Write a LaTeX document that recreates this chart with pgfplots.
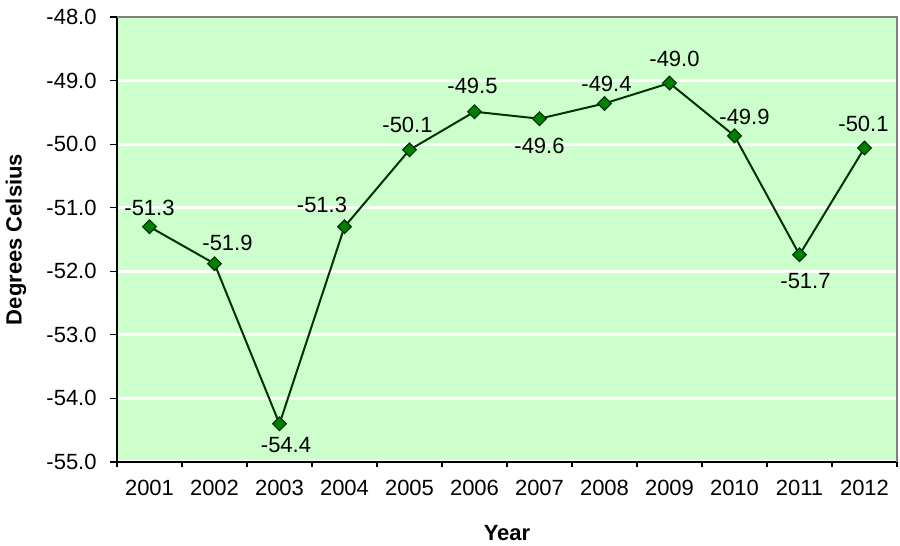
\documentclass[border=0pt]{standalone}
\usepackage{fontspec}
\setmainfont{Liberation Sans}
\usepackage{pgfplots}
\pgfplotsset{compat=1.18}
\usepackage{pgfplotstable}

\definecolor{plotbg}{RGB}{204,255,204}
\definecolor{linegreen}{RGB}{0,51,0}
\definecolor{markgreen}{RGB}{0,128,0}
\definecolor{framegray}{RGB}{128,128,128}

% year index, temperature, label offsets (pt)
\pgfplotstableread{
x y dx dy
1 -51.30 0 9.25
2 -51.88 6.5 10.25
3 -54.40 3.25 -10.75
4 -51.30 -11.25 11
5 -50.09 -1 12.25
6 -49.49 -1 13
7 -49.60 0 -13.75
8 -49.36 1 10
9 -49.04 2.5 12.25
10 -49.87 5 9.5
11 -51.74 3 -13.25
12 -50.06 -0.5 12.25
}\temps

\begin{document}
\begin{tikzpicture}
\useasboundingbox (-58.5pt,-42pt) rectangle (391.5pt,231pt);
\begin{axis}[
	scale only axis,
	width=390pt, height=222.5pt,
	at={(0,0)}, anchor=south west,
	xmin=0.5, xmax=12.5,
	ymin=-55, ymax=-48,
	axis x line*=bottom,
	axis y line*=left,
	axis line style={black, line width=0.8pt},
	axis background/.style={fill=plotbg},
	tick align=outside,
	xtick={1,...,12},
	xticklabels={2001,2002,2003,2004,2005,2006,2007,2008,2009,2010,2011,2012},
	minor xtick={0.5,1.5,...,12.5},
	major x tick style={draw=none},
	minor x tick style={black, line width=0.6pt},
	minor tick length=2.5pt,
	ytick={-55,-54,...,-48},
	major y tick style={black, line width=0.6pt},
	major tick length=3.5pt,
	ymajorgrids,
	grid style={white, line width=1.5pt},
	tick label style={font=\fontsize{11}{13}\selectfont},
	xticklabel style={anchor=center, inner sep=0pt, yshift=-9.5pt},
	yticklabel style={anchor=east, inner sep=0pt, xshift=-6.5pt},
	label style={font=\bfseries\fontsize{11}{13}\selectfont},
	xlabel={Year},
	ylabel={Degrees Celsius},
	xlabel style={at={(axis description cs:0.5,-0.1596)}, anchor=center},
	ylabel style={at={(axis description cs:-0.1295,0.5)}, anchor=center, rotate=0},
	clip=false,
	/pgf/number format/.cd, fixed, fixed zerofill, precision=1, assume math mode=true
]

\addplot[
	color=linegreen,
	line width=1pt,
	mark=square*,
	mark size=2.4pt,
	mark options={rotate=45, fill=markgreen, draw=linegreen, line width=0.6pt},
	point meta=y,
	visualization depends on={\thisrow{dx} \as \ldx},
	visualization depends on={\thisrow{dy} \as \ldy},
	nodes near coords,
	every node near coord/.append style={anchor=center, inner sep=0pt,
		xshift=\ldx pt, yshift=\ldy pt, text=black,
		font=\fontsize{11}{13}\selectfont}
] table[x=x, y=y] {\temps};

\end{axis}
\draw[framegray, line width=0.8pt] (0pt,222.5pt) -- (390pt,222.5pt) -- (390pt,0pt);
\end{tikzpicture}
\end{document}
